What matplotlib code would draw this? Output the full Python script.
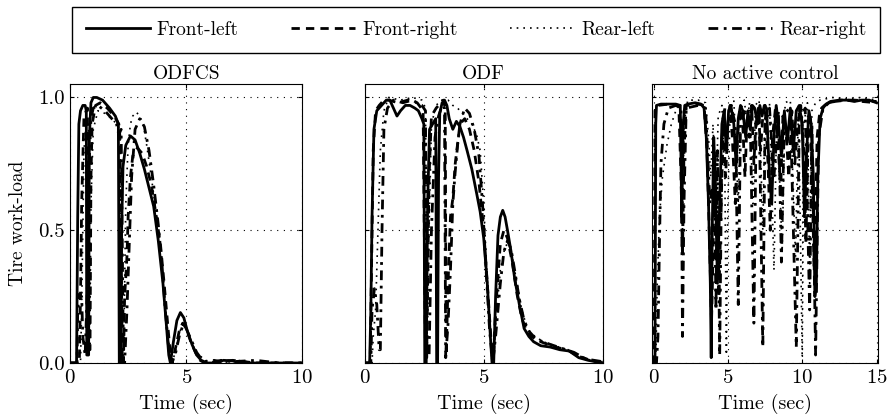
import matplotlib
matplotlib.use("Agg")
import matplotlib.pyplot as plt
import numpy as np

plt.rcParams['font.family'] = ['cmr10', 'DejaVu Serif']
plt.rcParams['mathtext.fontset'] = 'cm'
plt.rcParams['axes.unicode_minus'] = False
plt.rcParams['axes.formatter.use_mathtext'] = True

titles = ["ODFCS", "ODF", "No active control"]
labels = ["Front-left", "Front-right", "Rear-left", "Rear-right"]
x_ticks = [[0, 5, 10], [0, 5, 10], [0, 5, 10, 15]]
y_ticks = [0.0, 0.5, 1.0]

# ODFCS: (time, work-load)
odfcs_fl = [(0, 0), (0.28, 0), (0.33, 0.55), (0.38, 0.9), (0.45, 0.95), (0.55, 0.97),
            (0.65, 0.97), (0.7, 0.95), (0.72, 0.03), (0.8, 0.03), (0.83, 0.85), (0.9, 0.98),
            (1.0, 1.0), (1.15, 1.0), (1.4, 0.99), (1.7, 0.96), (1.95, 0.93), (2.08, 0.9),
            (2.12, 0.0), (2.2, 0.0), (2.22, 0.5), (2.28, 0.74), (2.4, 0.82), (2.6, 0.855),
            (2.8, 0.84), (3.0, 0.79), (3.2, 0.73), (3.4, 0.66), (3.6, 0.59), (3.8, 0.46),
            (4.0, 0.3), (4.15, 0.14), (4.25, 0.03), (4.32, 0.0), (4.45, 0.08), (4.6, 0.16),
            (4.75, 0.19), (4.9, 0.17), (5.05, 0.12), (5.25, 0.07), (5.45, 0.03), (5.65, 0.01),
            (5.9, 0), (6.3, 0), (6.6, 0.01), (7.0, 0.008), (7.3, 0), (8.0, 0), (9.0, 0), (10, 0)]
odfcs_fr = [(0, 0), (0.4, 0), (0.45, 0.25), (0.5, 0.6), (0.6, 0.93), (0.75, 0.96),
            (0.78, 0.05), (0.86, 0.05), (0.9, 0.7), (0.95, 0.9), (1.1, 0.97), (1.3, 0.98),
            (1.6, 0.96), (1.9, 0.93), (2.1, 0.9), (2.15, 0.85), (2.25, 0.0), (2.3, 0.0),
            (2.35, 0.25), (2.45, 0.4), (2.5, 0.55), (2.6, 0.7), (2.7, 0.78), (2.9, 0.81),
            (3.1, 0.79), (3.3, 0.74), (3.5, 0.67), (3.7, 0.56), (3.9, 0.44), (4.05, 0.3),
            (4.2, 0.15), (4.32, 0.03), (4.4, 0), (4.55, 0.06), (4.7, 0.12), (4.85, 0.15),
            (5.0, 0.13), (5.2, 0.08), (5.4, 0.04), (5.6, 0.01), (5.8, 0), (6.2, 0.01),
            (6.5, 0.005), (7.0, 0.01), (7.5, 0.005), (8, 0), (9, 0), (10, 0)]
odfcs_rl = [(0, 0), (0.45, 0), (0.5, 0.2), (0.55, 0.5), (0.6, 0.8), (0.7, 0.92),
            (0.8, 0.9), (0.85, 0.06), (0.9, 0.6), (1.0, 0.88), (1.2, 0.95), (1.5, 0.94),
            (1.8, 0.92), (2.0, 0.9), (2.15, 0.88), (2.2, 0.0), (2.3, 0.0), (2.4, 0.6),
            (2.5, 0.82), (2.6, 0.9), (2.7, 0.93), (2.85, 0.945), (3.0, 0.93), (3.15, 0.9),
            (3.3, 0.82), (3.5, 0.7), (3.7, 0.57), (3.85, 0.45), (4.0, 0.3), (4.15, 0.15),
            (4.3, 0.04), (4.4, 0), (4.55, 0.05), (4.7, 0.11), (4.85, 0.15), (5.0, 0.13),
            (5.2, 0.08), (5.45, 0.04), (5.8, 0.01), (6.5, 0), (7.2, 0.01), (8, 0), (9, 0), (10, 0)]
odfcs_rr = [(0, 0), (0.3, 0), (0.33, 0.2), (0.4, 0.26), (0.5, 0.25), (0.55, 0.1),
            (0.65, 0.03), (0.75, 0.3), (0.8, 0.7), (0.9, 0.92), (1.0, 0.96), (1.2, 0.97),
            (1.5, 0.95), (1.8, 0.92), (2.0, 0.9), (2.1, 0.86), (2.2, 0.88), (2.3, 0.0),
            (2.35, 0.0), (2.45, 0.2), (2.55, 0.45), (2.65, 0.7), (2.8, 0.88), (3.0, 0.92),
            (3.2, 0.89), (3.4, 0.8), (3.6, 0.67), (3.8, 0.52), (3.95, 0.38), (4.1, 0.2),
            (4.25, 0.05), (4.38, 0), (4.55, 0.04), (4.7, 0.1), (4.85, 0.14), (5.0, 0.13),
            (5.2, 0.09), (5.45, 0.04), (5.7, 0.01), (6.0, 0), (6.5, 0.01), (7, 0.005),
            (8, 0.01), (9, 0), (10, 0)]

# ODF
odf_fl = [(0, 0), (0.2, 0), (0.25, 0.2), (0.3, 0.55), (0.38, 0.88), (0.5, 0.95),
          (0.7, 0.97), (0.9, 0.99), (1.05, 0.99), (1.2, 0.96), (1.35, 0.93), (1.5, 0.95),
          (1.7, 0.97), (1.9, 0.97), (2.1, 0.96), (2.25, 0.95), (2.4, 0.92), (2.48, 0.9),
          (2.52, 0.0), (2.58, 0.0), (2.64, 0.6), (2.72, 0.88), (2.85, 0.9), (2.98, 0.92),
          (3.02, 0.0), (3.06, 0.0), (3.1, 0.7), (3.15, 0.94), (3.25, 0.98), (3.35, 0.99),
          (3.45, 0.97), (3.55, 0.92), (3.7, 0.88), (3.85, 0.91), (4.0, 0.89), (4.15, 0.85),
          (4.3, 0.8), (4.5, 0.73), (4.7, 0.64), (4.85, 0.57), (5.0, 0.47), (5.15, 0.3),
          (5.28, 0.1), (5.35, 0.0), (5.42, 0.0), (5.5, 0.25), (5.6, 0.48), (5.7, 0.55),
          (5.8, 0.575), (5.9, 0.55), (6.0, 0.5), (6.15, 0.42), (6.3, 0.32), (6.5, 0.22),
          (6.7, 0.13), (6.9, 0.1), (7.1, 0.08), (7.4, 0.065), (7.8, 0.06), (8.2, 0.05),
          (8.6, 0.045), (9.0, 0.02), (9.4, 0.01), (10, 0)]
odf_fr = [(0, 0), (0.22, 0), (0.27, 0.3), (0.35, 0.8), (0.45, 0.95), (0.6, 0.97),
          (0.8, 0.99), (1.0, 0.99), (1.4, 0.98), (1.8, 0.99), (2.2, 0.98), (2.45, 0.95),
          (2.55, 0.02), (2.6, 0.02), (2.7, 0.7), (2.8, 0.93), (3.0, 0.96), (3.3, 0.99),
          (3.38, 0.96), (3.42, 0.03), (3.5, 0.3), (3.6, 0.55), (3.7, 0.62), (3.8, 0.75),
          (4.0, 0.9), (4.2, 0.92), (4.4, 0.88), (4.6, 0.8), (4.8, 0.68), (5.0, 0.5),
          (5.15, 0.3), (5.3, 0.1), (5.4, 0.0), (5.5, 0.2), (5.7, 0.45), (5.85, 0.5),
          (6.0, 0.47), (6.2, 0.38), (6.4, 0.26), (6.6, 0.17), (6.8, 0.12), (7.0, 0.1),
          (7.4, 0.08), (8.0, 0.06), (8.5, 0.05), (9.0, 0.025), (9.5, 0.01), (10, 0)]
odf_rl = [(0, 0), (0.3, 0), (0.35, 0.1), (0.45, 0.2), (0.55, 0.5), (0.65, 0.8),
          (0.8, 0.95), (1.0, 1.0), (1.5, 0.99), (2.0, 1.0), (2.4, 0.99), (2.55, 0.96),
          (2.62, 0.02), (2.7, 0.5), (2.8, 0.9), (3.0, 0.97), (3.2, 0.99), (3.5, 0.99),
          (3.7, 0.97), (3.9, 0.96), (4.1, 0.94), (4.3, 0.92), (4.5, 0.9), (4.7, 0.86),
          (4.85, 0.8), (5.0, 0.6), (5.1, 0.4), (5.25, 0.15), (5.35, 0.0), (5.5, 0.15),
          (5.7, 0.35), (5.9, 0.44), (6.05, 0.45), (6.2, 0.4), (6.4, 0.3), (6.6, 0.2),
          (6.8, 0.14), (7.0, 0.11), (7.5, 0.08), (8.0, 0.065), (8.5, 0.05), (9.0, 0.03),
          (9.5, 0.01), (10, 0.005)]
odf_rr = [(0, 0), (0.25, 0), (0.3, 0.2), (0.4, 0.28), (0.5, 0.22), (0.6, 0.05),
          (0.65, 0.05), (0.72, 0.5), (0.8, 0.88), (0.95, 0.96), (1.2, 0.99), (1.6, 0.98),
          (2.0, 0.99), (2.4, 0.97), (2.55, 0.95), (2.6, 0.02), (2.7, 0.02), (2.8, 0.5),
          (2.95, 0.85), (3.1, 0.93), (3.25, 0.97), (3.35, 0.96), (3.4, 0.02), (3.5, 0.15),
          (3.6, 0.35), (3.7, 0.6), (3.8, 0.72), (3.9, 0.82), (4.0, 0.9), (4.2, 0.96),
          (4.4, 0.94), (4.6, 0.88), (4.8, 0.78), (4.95, 0.6), (5.1, 0.35), (5.25, 0.12),
          (5.38, 0.0), (5.5, 0.1), (5.7, 0.3), (5.85, 0.42), (6.0, 0.46), (6.15, 0.43),
          (6.3, 0.35), (6.5, 0.24), (6.7, 0.16), (6.9, 0.12), (7.2, 0.09), (7.8, 0.07),
          (8.3, 0.055), (8.8, 0.04), (9.3, 0.015), (10, 0.005)]

# No active control
nac_fl = [(0, 0), (0.1, 0), (0.15, 0.9), (0.2, 0.97), (0.5, 0.975), (1.0, 0.975),
          (1.5, 0.975), (1.8, 0.97), (1.9, 0.55), (2.0, 0.9), (2.1, 0.97), (2.3, 0.975),
          (2.8, 0.98), (3.2, 0.975), (3.4, 0.96), (3.55, 0.85), (3.7, 0.6), (3.82, 0.3),
          (3.88, 0.02), (3.95, 0.5), (4.05, 0.85), (4.15, 0.7), (4.3, 0.3), (4.45, 0.6),
          (4.6, 0.9), (4.75, 0.95), (4.9, 0.8), (5.05, 0.95), (5.2, 0.97), (5.4, 0.9),
          (5.55, 0.75), (5.7, 0.92), (5.85, 0.97), (6.0, 0.95), (6.2, 0.85), (6.35, 0.95),
          (6.5, 0.88), (6.65, 0.97), (6.8, 0.96), (7.0, 0.9), (7.15, 0.97), (7.3, 0.93),
          (7.45, 0.97), (7.6, 0.96), (7.8, 0.7), (7.95, 0.6), (8.1, 0.85), (8.25, 0.97),
          (8.4, 0.9), (8.6, 0.78), (8.8, 0.95), (9.0, 0.83), (9.2, 0.96), (9.4, 0.8),
          (9.6, 0.95), (9.8, 0.97), (10.0, 0.9), (10.15, 0.55), (10.3, 0.8), (10.45, 0.95),
          (10.6, 0.9), (10.75, 0.7), (10.85, 0.25), (10.95, 0.3), (11.05, 0.7), (11.2, 0.92),
          (11.4, 0.96), (11.6, 0.975), (11.9, 0.985), (12.5, 0.99), (13, 0.99), (13.5, 0.985),
          (14, 0.99), (14.5, 0.99), (15, 0.98)]
nac_fr = [(0, 0), (0.05, 0), (0.1, 0.95), (0.3, 0.97), (1.0, 0.975), (1.7, 0.97),
          (1.85, 0.7), (1.95, 0.4), (2.05, 0.8), (2.2, 0.97), (3.0, 0.975), (3.4, 0.97),
          (3.6, 0.8), (3.75, 0.5), (3.9, 0.15), (4.0, 0.4), (4.1, 0.8), (4.25, 0.5),
          (4.4, 0.25), (4.55, 0.6), (4.7, 0.9), (4.85, 0.7), (5.0, 0.9), (5.15, 0.97),
          (5.3, 0.85), (5.5, 0.6), (5.65, 0.85), (5.8, 0.96), (6.0, 0.9), (6.15, 0.7),
          (6.3, 0.93), (6.45, 0.85), (6.6, 0.97), (6.75, 0.75), (6.9, 0.92), (7.05, 0.96),
          (7.2, 0.8), (7.35, 0.93), (7.5, 0.97), (7.7, 0.75), (7.85, 0.5), (8.0, 0.85),
          (8.2, 0.96), (8.35, 0.85), (8.55, 0.65), (8.7, 0.93), (8.9, 0.88), (9.1, 0.7),
          (9.3, 0.95), (9.5, 0.75), (9.7, 0.9), (9.9, 0.97), (10.1, 0.8), (10.25, 0.45),
          (10.4, 0.85), (10.55, 0.92), (10.7, 0.6), (10.8, 0.35), (10.9, 0.55), (11.0, 0.85),
          (11.15, 0.93), (11.3, 0.96), (11.5, 0.97), (11.8, 0.98), (12.2, 0.985), (13, 0.99),
          (14, 0.985), (15, 0.98)]
nac_rl = [(0, 0), (0.15, 0), (0.25, 0.3), (0.4, 0.55), (0.6, 0.7), (0.9, 0.82),
          (1.2, 0.9), (1.5, 0.95), (1.8, 0.98), (1.95, 0.5), (2.05, 0.9), (2.3, 0.99),
          (3.0, 0.99), (3.5, 0.98), (3.7, 0.85), (3.85, 0.7), (4.0, 0.9), (4.2, 0.6),
          (4.35, 0.93), (4.6, 0.97), (4.8, 0.7), (4.9, 0.03), (5.0, 0.6), (5.15, 0.95),
          (5.4, 0.99), (5.7, 0.6), (5.85, 0.95), (6.1, 0.99), (6.3, 0.9), (6.45, 0.98),
          (6.7, 0.6), (6.85, 0.97), (7.1, 0.99), (7.35, 0.5), (7.5, 0.97), (7.8, 0.98),
          (8.1, 0.35), (8.3, 0.97), (8.65, 0.42), (8.85, 0.98), (9.2, 0.99), (9.55, 0.4),
          (9.75, 0.97), (10.0, 0.02), (10.1, 0.9), (10.35, 0.98), (10.5, 0.3), (10.65, 0.95),
          (10.9, 0.98), (11.2, 0.99), (11.6, 0.995), (12, 1.0), (13, 0.995), (14, 1.0),
          (15, 0.99)]
nac_rr = [(0, 0), (0.2, 0), (0.3, 0.1), (0.4, 0.45), (0.5, 0.75), (0.7, 0.9),
          (1.0, 0.96), (1.5, 0.97), (1.85, 0.96), (1.95, 0.1), (2.05, 0.6), (2.2, 0.96),
          (3.0, 0.97), (3.5, 0.96), (3.8, 0.6), (4.1, 0.7), (4.2, 0.2), (4.3, 0.8),
          (4.45, 0.03), (4.6, 0.85), (4.8, 0.96), (5.2, 0.97), (5.5, 0.9), (5.7, 0.22),
          (5.85, 0.9), (6.2, 0.96), (6.5, 0.93), (6.75, 0.15), (6.9, 0.9), (7.1, 0.96),
          (7.35, 0.06), (7.5, 0.9), (7.8, 0.96), (8.1, 0.7), (8.4, 0.95), (8.6, 0.38),
          (8.8, 0.94), (9.2, 0.96), (9.6, 0.06), (9.8, 0.9), (10.2, 0.96), (10.5, 0.2),
          (10.65, 0.9), (10.9, 0.03), (11.1, 0.85), (11.4, 0.96), (11.8, 0.98), (12.5, 0.99),
          (13.5, 0.99), (15, 0.985)]

panels = [[odfcs_fl, odfcs_fr, odfcs_rl, odfcs_rr],
          [odf_fl, odf_fr, odf_rl, odf_rr],
          [nac_fl, nac_fr, nac_rl, nac_rr]]

styles = [dict(linestyle='-', lw=2.0),
          dict(linestyle=(0, (3.0, 2.2)), lw=2.0),
          dict(linestyle=(0, (1, 3)), lw=1.2),
          dict(linestyle=(0, (3.5, 2, 1, 2)), lw=2.0)]

fig = plt.figure(figsize=(8.9, 4.18), dpi=100)
boxes = [(0.0787, 0.1316, 0.261, 0.667),
         (0.410, 0.1316, 0.267, 0.667),
         (0.7326, 0.1316, 0.254, 0.667)]
xlims = [(0, 10), (0, 10), (-0.1, 15.1)]

handles = []
for i, box in enumerate(boxes):
    ax = fig.add_axes(box)
    for data, st in zip(panels[i], styles):
        t, y = np.array(data).T
        ln, = ax.plot(t, y, color='black', **st)
        if i == 0:
            handles.append(ln)
    ax.set_xlim(*xlims[i])
    ax.set_ylim(0, 1.05)
    ax.set_xticks(x_ticks[i])
    ax.set_yticks(y_ticks)
    if i == 0:
        ax.set_yticklabels(["0.0", "0.5", "1.0"])
        ax.set_ylabel("Tire work-load", fontsize=14, labelpad=8)
    else:
        ax.set_yticklabels([])
    ax.grid(True, linestyle=(0, (1, 5)), color='black', lw=0.8)
    ax.tick_params(direction='in', length=3, top=True, right=True, labelsize=15, pad=4)
    ax.set_title(titles[i], fontsize=14, pad=4)
    ax.set_xlabel("Time (sec)", fontsize=14.5, labelpad=5)

fig.legend(handles, labels, loc='center', ncol=4, mode='expand',
           bbox_to_anchor=(72 / 890, 1 - 52 / 418, 808 / 890, 44 / 418),
           fontsize=14, handlelength=3.3, handletextpad=0.35, fancybox=False,
           edgecolor='black', framealpha=1, borderpad=0.7, borderaxespad=0)

fig.savefig("out.png", dpi=100)
